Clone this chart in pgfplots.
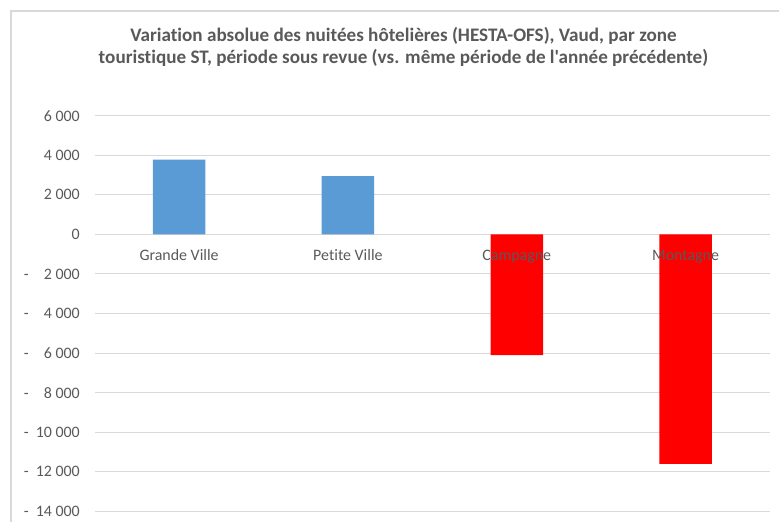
\documentclass[border=0pt]{standalone}
\usepackage{pgfplots}
\pgfplotsset{compat=1.18}
\usepackage{fontspec}
\setmainfont[Ligatures={TeXOff,NoCommon}]{Carlito}
\definecolor{txt}{HTML}{595959}
\definecolor{gridc}{HTML}{D9D9D9}
\definecolor{blu}{HTML}{5B9BD5}
\definecolor{rd}{HTML}{FF0000}
\begin{document}
\begin{tikzpicture}[x=1bp,y=1bp]
\draw[gridc, line width=1.2bp] (11,0) -- (11,511) -- (779,511);
\node[anchor=base, text=txt, font=\fontsize{19.2}{23}\selectfont\bfseries, inner sep=0] at (403.5,480.5) {Variation absolue des nuitées hôtelières (HESTA-OFS), Vaud, par zone};
\node[anchor=base, text=txt, font=\fontsize{19.2}{23}\selectfont\bfseries, inner sep=0] at (403.5,458) {touristique ST, période sous revue (vs. même période de l'année précédente)};
\begin{axis}[
  set layers=standard,
  at={(94.7bp,10.7bp)}, anchor=south west,
  scale only axis, width=675.3bp, height=395.6bp,
  xmin=-0.5, xmax=3.5, ymin=-14000, ymax=6000,
  scaled y ticks=false,
  axis line style={draw=none},
  major tick length=0pt,
  tick style={draw=none},
  ymajorgrids, grid style={gridc, line width=1bp},
  ytick={-14000,-12000,-10000,-8000,-6000,-4000,-2000,0,2000,4000,6000},
  yticklabels={
    \hbox to 56bp{-\hfill 14 000},
    \hbox to 56bp{-\hfill 12 000},
    \hbox to 56bp{-\hfill 10 000},
    \hbox to 56bp{-\hfill 8 000},
    \hbox to 56bp{-\hfill 6 000},
    \hbox to 56bp{-\hfill 4 000},
    \hbox to 56bp{-\hfill 2 000},
    0, 2 000, 4 000, 6 000},
  yticklabel style={anchor=east, inner sep=0pt, xshift=-14.7bp, text=txt, font=\fontsize{16}{19}\selectfont},
  xtick={0,1,2,3},
  xticklabels={Grande Ville, Petite Ville, Campagne, Montagne},
  xticklabel style={/pgfplots/on layer=axis foreground, anchor=base, inner sep=0pt, yshift=250.9bp, text=txt, font=\fontsize{16}{19}\selectfont},
  ybar, bar width=52.5bp, bar shift=0pt,
]
\addplot[fill=blu, draw=none] coordinates {(0,3780) (1,2950)};
\addplot[fill=rd, draw=none] coordinates {(2,-6100) (3,-11600)};
\end{axis}
\pgfresetboundingbox
\path[use as bounding box] (0,0) rectangle (779,522);
\end{tikzpicture}
\end{document}
